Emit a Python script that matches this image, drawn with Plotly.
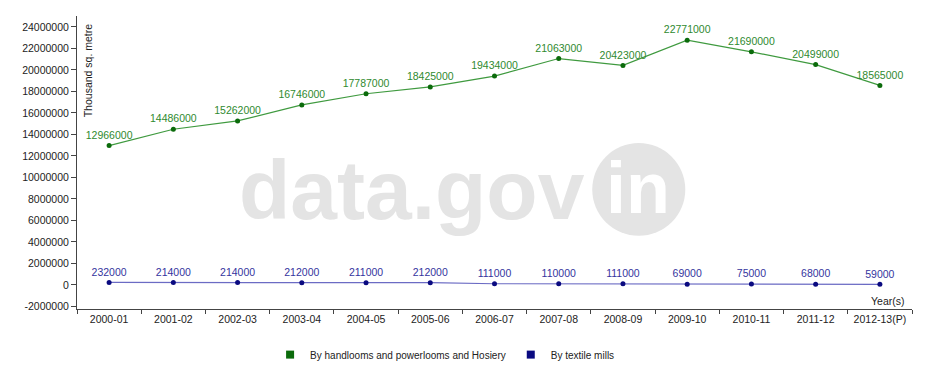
import plotly.graph_objects as go

years = ["2000-01", "2001-02", "2002-03", "2003-04", "2004-05", "2005-06", "2006-07",
         "2007-08", "2008-09", "2009-10", "2010-11", "2011-12", "2012-13(P)"]
handlooms = [12966000, 14486000, 15262000, 16746000, 17787000, 18425000, 19434000,
             21063000, 20423000, 22771000, 21690000, 20499000, 18565000]
mills = [232000, 214000, 214000, 212000, 211000, 212000, 111000,
         110000, 111000, 69000, 75000, 68000, 59000]
y_ticks = list(range(-2000000, 24000001, 2000000))

names = ["By handlooms and powerlooms and Hosiery", "By textile mills"]
line_cols = ["#3f9a3f", "#6b6bc4"]
mark_cols = ["#0b6b0b", "#0a0a80"]
text_cols = ["#2f8a2f", "#34349e"]

FONT = "Liberation Sans, Arial, sans-serif"

fig = go.Figure()
for vals, lc, mc, tc in zip([handlooms, mills], line_cols, mark_cols, text_cols):
    fig.add_trace(go.Scatter(
        x=years, y=vals, mode="lines+markers+text",
        text=[str(v) for v in vals], textposition="top center",
        textfont=dict(family=FONT, size=10.5, color=tc),
        line=dict(color=lc, width=1.2),
        marker=dict(color=mc, size=5),
        showlegend=False, cliponaxis=False,
    ))
for n, mc in zip(names, mark_cols):
    fig.add_trace(go.Scatter(
        x=[None], y=[None], mode="markers", name=n,
        marker=dict(symbol="square", size=8, color=mc),
    ))

L, R, T, B = 77, 14.4, 15.7, 70.7
pw = 926 - L - R
ph = 380 - T - B

fig.update_layout(
    width=926, height=380,
    margin=dict(l=L, r=R, t=T, b=B, autoexpand=False),
    paper_bgcolor="white", plot_bgcolor="white",
    font=dict(family=FONT, size=10.5, color="#222"),
    xaxis=dict(
        type="category", tickson="boundaries", ticks="outside", ticklen=4,
        tickcolor="#444", showline=True, linecolor="#444", linewidth=1,
        showgrid=False, zeroline=False, range=[-0.5, 12.5], automargin=False,
        tickfont=dict(family=FONT, size=10.5, color="#222"),
    ),
    yaxis=dict(
        range=[-2240000, 25020000], tickvals=y_ticks,
        ticktext=[str(v) for v in y_ticks], automargin=False,
        ticks="outside", ticklen=5, tickcolor="#444",
        showline=True, linecolor="#444", linewidth=1,
        showgrid=False, zeroline=False,
        tickfont=dict(family=FONT, size=10.5, color="#222"),
    ),
    legend=dict(
        orientation="h", x=(270 - L) / pw, xanchor="left",
        y=(309.3 - 355) / ph, yanchor="middle",
        font=dict(family=FONT, size=10, color="#222"),
        itemwidth=30,
    ),
    annotations=[
        dict(text="Thousand sq. metre", textangle=-90, xref="paper", yref="paper",
             x=(88 - L) / pw, y=(309.3 - 21) / ph, xanchor="center", yanchor="top",
             showarrow=False, font=dict(family=FONT, size=10.5, color="#222")),
        dict(text="Year(s)", xref="paper", yref="paper",
             x=(906 - L) / pw, y=(309.3 - 301.7) / ph, xanchor="right", yanchor="middle",
             showarrow=False, font=dict(family=FONT, size=10.5, color="#222")),
        dict(text="<b>data.gov</b>", xref="paper", yref="paper",
             x=(237 - L) / pw, y=(309.3 - 190) / ph, xanchor="left", yanchor="middle",
             showarrow=False, font=dict(family=FONT, size=84, color="#e4e4e4")),
        dict(text="<b>in</b>", xref="paper", yref="paper",
             x=(638 - L) / pw, y=(309.3 - 188) / ph, xanchor="center", yanchor="middle",
             showarrow=False, font=dict(family=FONT, size=72, color="white")),
    ],
    shapes=[
        dict(type="circle", xref="paper", yref="paper", layer="below",
             x0=(592 - L) / pw, x1=(685 - L) / pw,
             y0=(309.3 - 236) / ph, y1=(309.3 - 143) / ph,
             fillcolor="#e4e4e4", line=dict(width=0)),
    ],
)

fig.write_html("out.html", config={"displayModeBar": False},
               post_script="document.body.style.margin='0';")
